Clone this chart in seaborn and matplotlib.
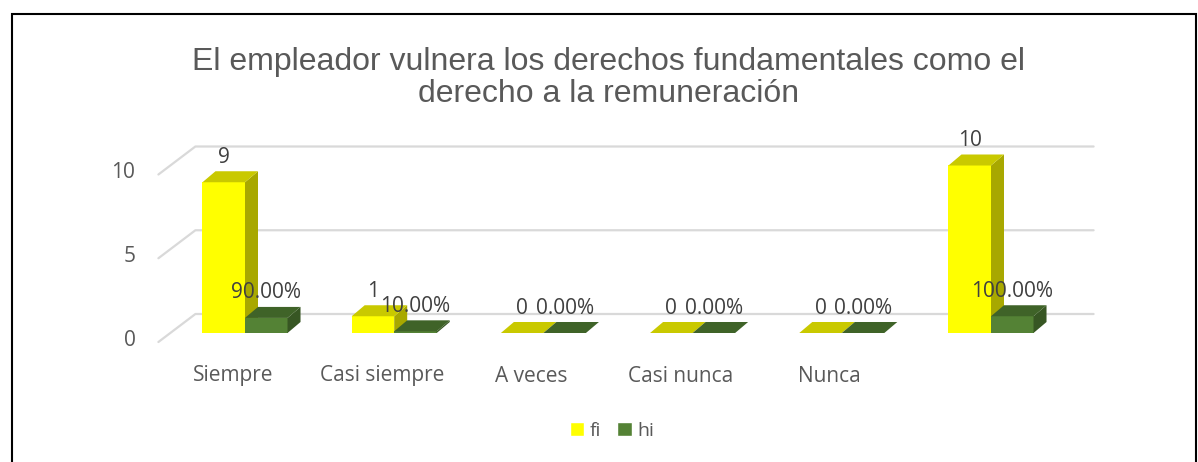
import numpy as np
import pandas as pd
import matplotlib
matplotlib.use("Agg")
import matplotlib.pyplot as plt
import matplotlib.transforms as mtransforms
from matplotlib.patches import Polygon, Rectangle, Patch
from matplotlib.lines import Line2D
import seaborn as sns

# ======================
# Datos
# ======================
categorias = ["Siempre", "Casi siempre", "A veces", "Casi nunca", "Nunca", "Total"]
etiquetas_x = ["Siempre", "Casi siempre", "A veces", "Casi nunca", "Nunca", ""]
fi = [9, 1, 0, 0, 0, 10]
hi = [0.90, 0.10, 0.00, 0.00, 0.00, 1.00]
ticks_y = [0, 5, 10]

titulo = "El empleador vulnera los derechos fundamentales como el\nderecho a la remuneración"

df = pd.DataFrame({
    "categoria": categorias * 2,
    "serie": ["fi"] * len(fi) + ["hi"] * len(hi),
    "valor": fi + hi,
})
df["texto"] = [str(v) for v in fi] + [f"{v * 100:.2f}%" for v in hi]

colores = {"fi": "#FFFF00", "hi": "#548235"}
techo = {"fi": "#C9C900", "hi": "#3F6328"}
lado = {"fi": "#A8A800", "hi": "#375623"}
gris = "#595959"
fuente_cuerpo = ["Open Sans", "DejaVu Sans"]

sns.set_style("white")
plt.rcParams["font.family"] = ["Liberation Sans", "DejaVu Sans"]

W, H, DPI = 1198, 462, 100
fig = plt.figure(figsize=(W / DPI, H / DPI), dpi=DPI)

# posicion del plano frontal de las barras (en pixeles)
px_izq, px_der = 170.4, 1065.6
px_cero = 333
px_por_unidad = 16.75
ymax = 11
ax = fig.add_axes([px_izq / W, 1 - px_cero / H,
                   (px_der - px_izq) / W, ymax * px_por_unidad / H])

sns.barplot(data=df, x="categoria", y="valor", hue="serie", order=categorias,
            hue_order=["fi", "hi"], palette=colores, saturation=1,
            width=0.57, errorbar=None, ax=ax, linewidth=0)
ax.set_xlim(-0.5, len(categorias) - 0.5)
ax.set_ylim(0, ymax)
ax.set_axis_off()
if ax.legend_ is not None:
    ax.legend_.remove()

ident = mtransforms.IdentityTransform()

# ======================
# Lineas de cuadricula (pared del fondo)
# ======================
for v in ticks_y:
    xf, yf = ax.transData.transform((-0.5, v))
    frente = (xf - 12, yf - 9)
    fondo = (xf + 25, yf + 19)
    fin = (px_der + 28, yf + 19)
    ax.add_line(Line2D([frente[0], fondo[0], fin[0]], [frente[1], fondo[1], fin[1]],
                       transform=ident, color="#D9D9D9", lw=1.6, zorder=0, clip_on=False))
    ax.text(-0.5, v, str(v), transform=ax.transData + mtransforms.ScaledTranslation(-35 / DPI, -7 / DPI, fig.dpi_scale_trans),
            ha="right", va="center", fontsize=15, color=gris, family=fuente_cuerpo)

# ======================
# Efecto 3D sobre las barras de seaborn
# ======================
dx, dy = 13, 11
n = len(categorias)
for k, serie in enumerate(["fi", "hi"]):
    parches = ax.patches[k * n:(k + 1) * n]
    for p in parches:
        p.set_zorder(2 + 2 * k)
        x0, y0 = ax.transData.transform((p.get_x(), p.get_y()))
        x1, y1 = ax.transData.transform((p.get_x() + p.get_width(), p.get_y() + p.get_height()))
        top = Polygon([(x0, y1), (x1, y1), (x1 + dx, y1 + dy), (x0 + dx, y1 + dy)],
                      closed=True, transform=ident, facecolor=techo[serie],
                      edgecolor="none", zorder=2.5 + 2 * k, clip_on=False)
        side = Polygon([(x1, y0), (x1, y1), (x1 + dx, y1 + dy), (x1 + dx, y0 + dy)],
                       closed=True, transform=ident, facecolor=lado[serie],
                       edgecolor="none", zorder=2.5 + 2 * k, clip_on=False)
        ax.add_patch(side)
        ax.add_patch(top)

# etiquetas de datos
for k, serie in enumerate(["fi", "hi"]):
    sub = df[df["serie"] == serie]
    for p, txt in zip(ax.patches[k * n:(k + 1) * n], sub["texto"]):
        cx = p.get_x() + p.get_width() / 2
        ax.text(cx, p.get_height(), txt,
                transform=ax.transData + mtransforms.ScaledTranslation(0, 25 / DPI, fig.dpi_scale_trans),
                ha="center", va="center", fontsize=15, color="#404040", zorder=10,
                family=fuente_cuerpo)

# etiquetas de categorias
for i, lab in enumerate(etiquetas_x):
    ax.text(i - 0.08, (px_cero - 376) / (ymax * px_por_unidad), lab,
            transform=mtransforms.blended_transform_factory(ax.transData, ax.transAxes),
            ha="center", va="center", fontsize=15, color=gris, family=fuente_cuerpo)

# titulo
fig.text(609 / W, 1 - 78 / H, titulo, ha="center", va="center", fontsize=23,
         color=gris, linespacing=1.08)

# leyenda
handles = [Patch(facecolor=colores["fi"]), Patch(facecolor=colores["hi"])]
fig.legend(handles, ["fi", "hi"], loc="center", bbox_to_anchor=(612 / W, 1 - 431 / H),
           ncol=2, frameon=False, handlelength=0.75, handleheight=0.75, handletextpad=0.3,
           columnspacing=0.8, prop={"family": "Open Sans", "size": 14}, labelcolor=gris)

# marco
fig.patches.append(Rectangle((12 / W, -0.05), (1196 - 12) / W, 1.05 - 14 / H,
                             transform=fig.transFigure, fill=False, edgecolor="black", lw=1.5))

fig.savefig("out.png", dpi=DPI)
